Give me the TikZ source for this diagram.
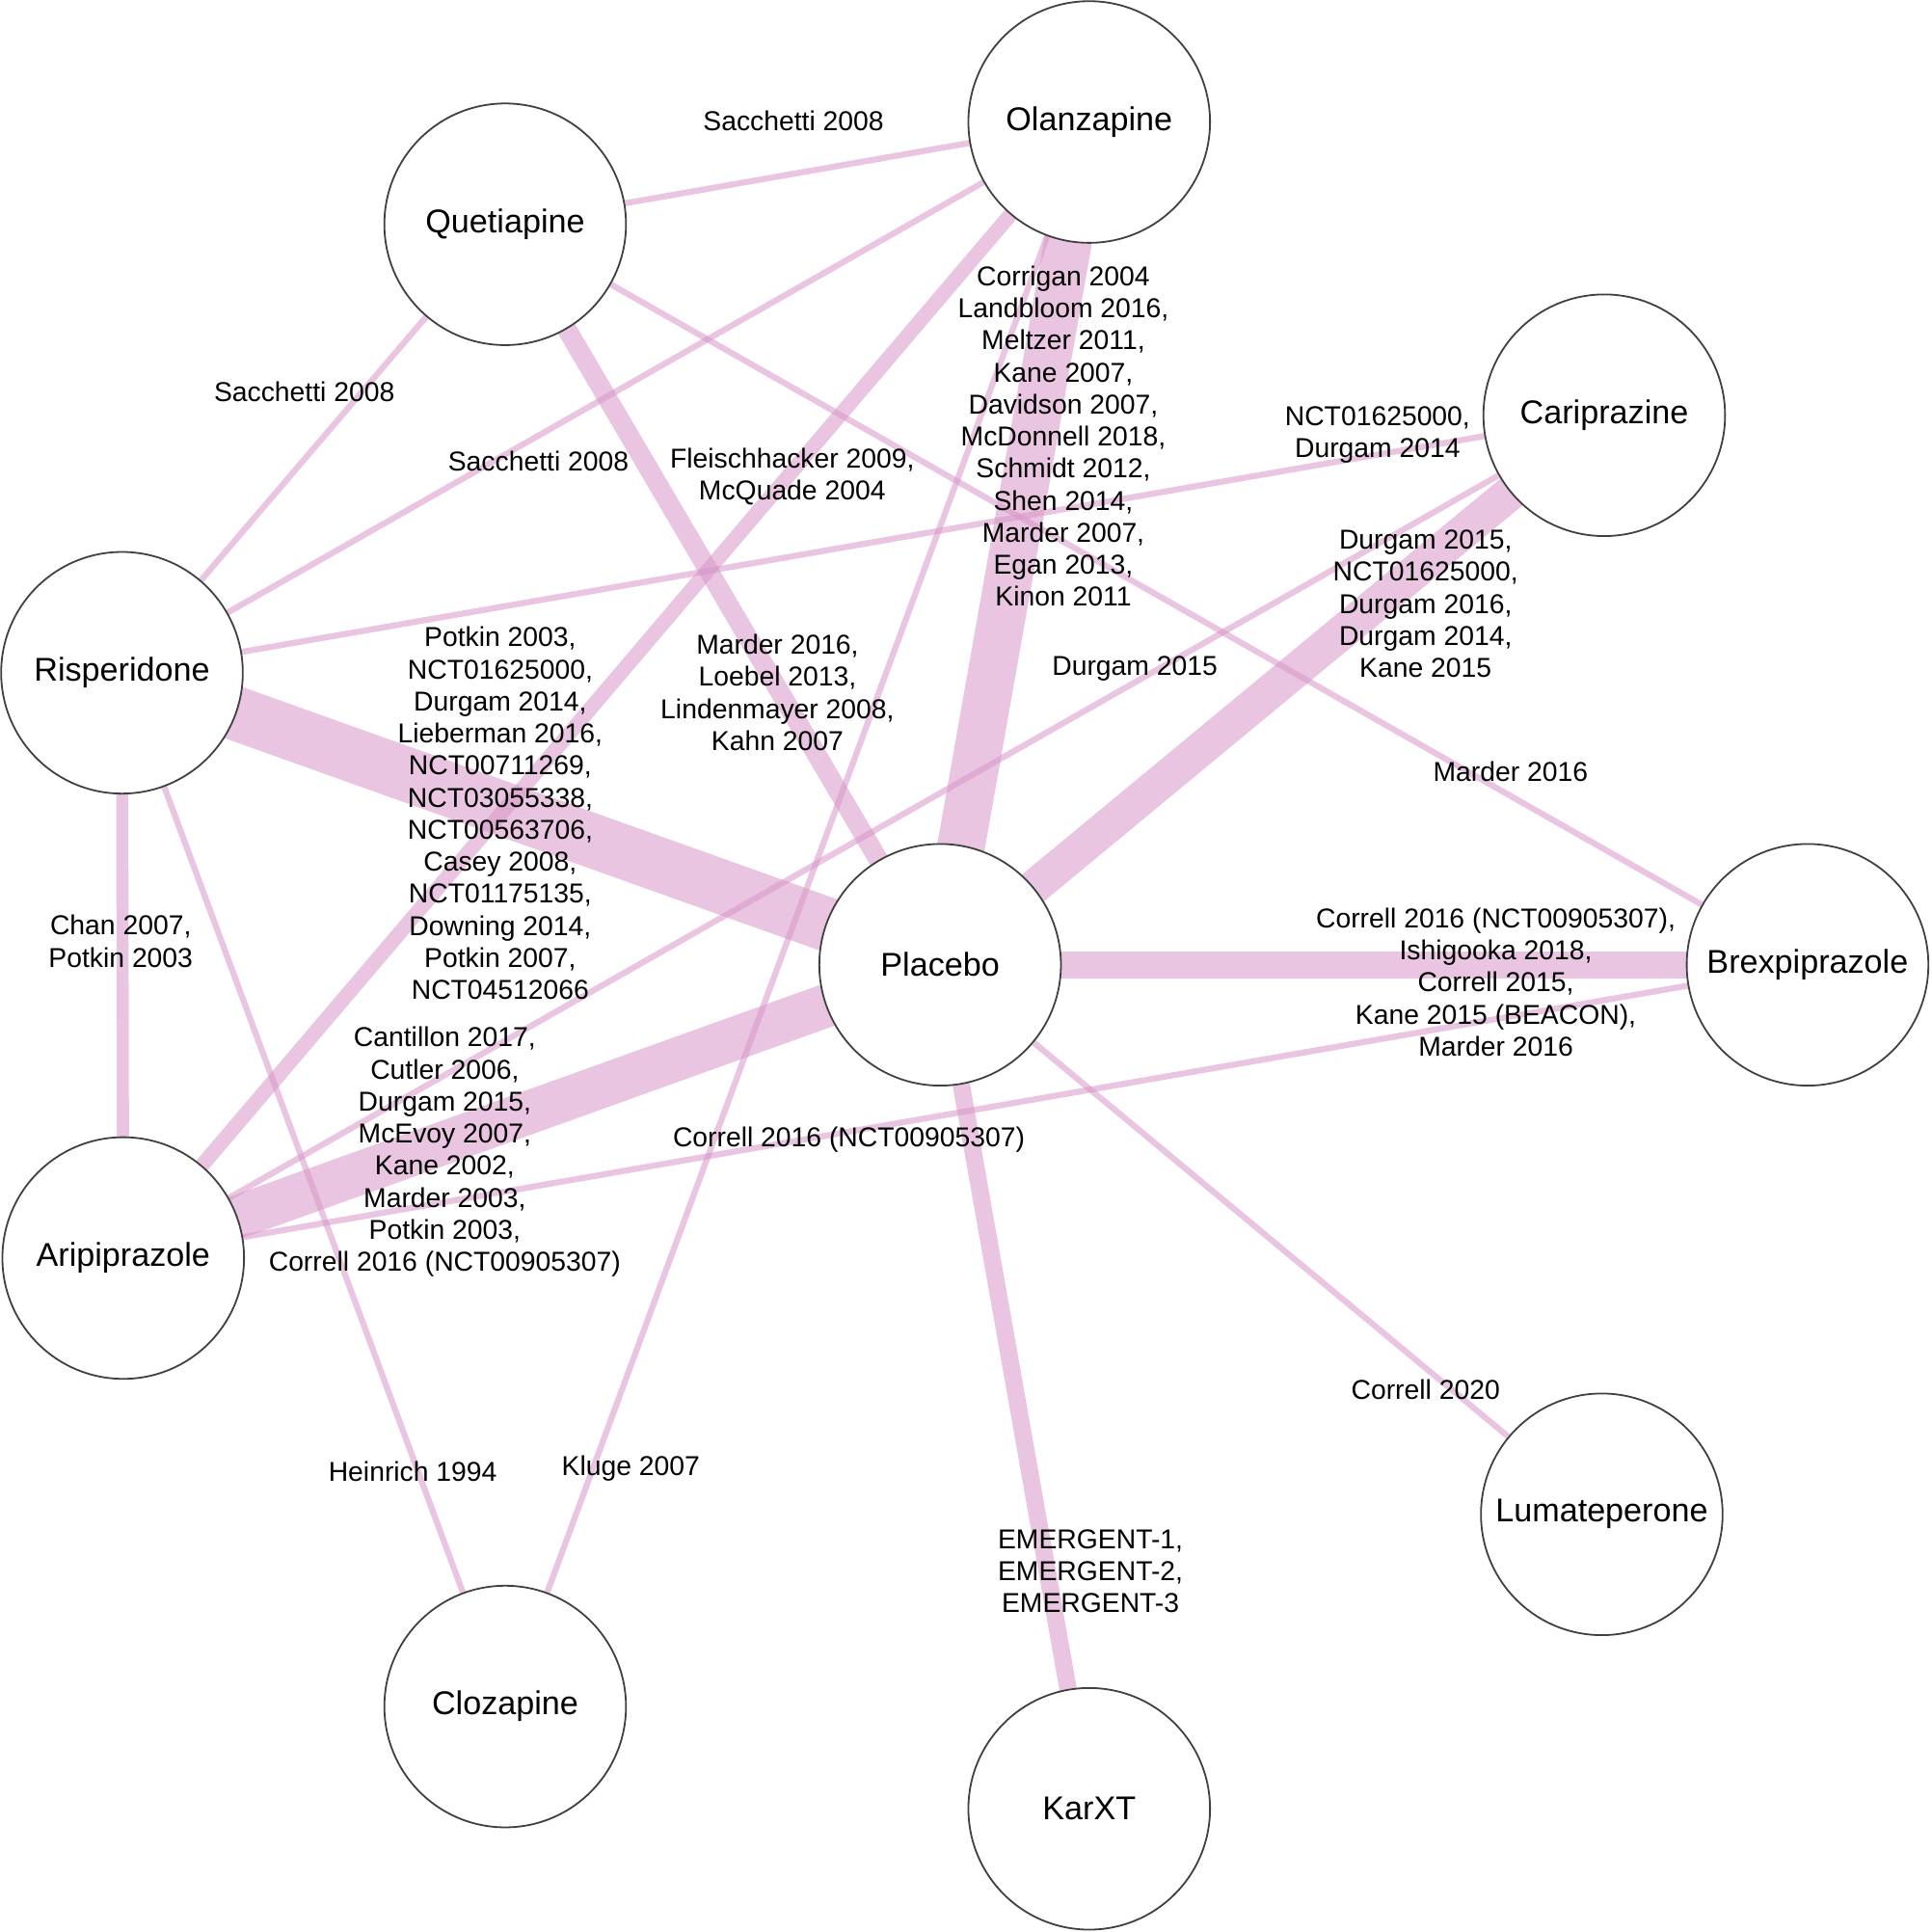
\documentclass[tikz,border=0pt]{standalone}
\usepackage{fontspec}
\setmainfont{Liberation Sans}
\usetikzlibrary{positioning,backgrounds}
\definecolor{edgepink}{RGB}{215,150,200}
\tikzset{
  drug/.style={draw=black!75, circle, fill=white, minimum size=1.96cm, inner sep=0pt, font=\fontsize{7.6}{9}\selectfont},
  trial/.style={align=center, inner sep=0pt, font=\fontsize{6.3}{7.4}\selectfont},
  link/.style={draw=edgepink, opacity=0.55, line width=#1},
}
\begin{document}
\begin{tikzpicture}[x=0.01cm, y=-0.01cm]
  \useasboundingbox (0,0) rectangle (1568,1568);
  % Treatments
  \node[drug] (Olan) at (884,99) {Olanzapine};
  \node[drug] (Quet) at (410,182) {Quetiapine};
  \node[drug] (Cari) at (1302,337) {Cariprazine};
  \node[drug] (Risp) at (99,546) {Risperidone};
  \node[drug] (Plac) at (763,783) {Placebo};
  \node[drug] (Brex) at (1467,783) {Brexpiprazole};
  \node[drug] (Arip) at (100,1021) {Aripiprazole};
  \node[drug] (Luma) at (1300,1229) {Lumateperone};
  \node[drug] (Cloz) at (410,1385) {Clozapine};
  \node[drug] (Karx) at (884,1468) {KarXT};

  % Comparisons
  \begin{scope}[on background layer]
    \draw[link=1.4pt] (Quet.center) -- (Olan.center);
    \draw[link=1.4pt] (Risp.center) -- (Quet.center);
    \draw[link=1.4pt] (Risp.center) -- (Olan.center);
    \draw[link=1.4pt] (Risp.center) -- (Cari.center);
    \draw[link=1.4pt] (Quet.center) -- (Brex.center);
    \draw[link=4.5pt] (Quet.center) -- (Plac.center);
    \draw[link=11pt] (Olan.center) -- (Plac.center);
    \draw[link=3.4pt] (Olan.center) -- (Arip.center);
    \draw[link=1.4pt] (Olan.center) -- (Cloz.center);
    \draw[link=8pt] (Cari.center) -- (Plac.center);
    \draw[link=1.4pt] (Cari.center) -- (Arip.center);
    \draw[link=12.5pt] (Risp.center) -- (Plac.center);
    \draw[link=2.8pt] (Risp.center) -- (Arip.center);
    \draw[link=1.4pt] (Risp.center) -- (Cloz.center);
    \draw[link=6.2pt] (Plac.center) -- (Brex.center);
    \draw[link=1.4pt] (Arip.center) -- (Brex.center);
    \draw[link=10pt] (Arip.center) -- (Plac.center);
    \draw[link=1.4pt] (Plac.center) -- (Luma.center);
    \draw[link=4pt] (Plac.center) -- (Karx.center);
  \end{scope}

  % Trial labels
  \node[trial] (lQO) at (644,98) {Sacchetti 2008};
  \node[trial] (lRQ) at (247,318) {Sacchetti 2008};
  \node[trial] (lRO) at (437,374) {Sacchetti 2008};
  \node[trial] (lOA) at (643,387) {Fleischhacker 2009,\\McQuade 2004};
  \node[trial] (lOP) at (863,354) {Corrigan 2004\\Landbloom 2016,\\Meltzer 2011,\\Kane 2007,\\Davidson 2007,\\McDonnell 2018,\\Schmidt 2012,\\Shen 2014,\\Marder 2007,\\Egan 2013,\\Kinon 2011};
  \node[trial] (lRC) at (1118,353) {NCT01625000,\\Durgam 2014};
  \node[trial] (lCP) at (1157,490) {Durgam 2015,\\NCT01625000,\\Durgam 2016,\\Durgam 2014,\\Kane 2015};
  \node[trial] (lCA) at (921,543) {Durgam 2015};
  \node[trial] (lQB) at (1226,626) {Marder 2016};
  \node[trial] (lQP) at (631,562) {Marder 2016,\\Loebel 2013,\\Lindenmayer 2008,\\Kahn 2007};
  \node[trial] (lRP) at (406,660) {Potkin 2003,\\NCT01625000,\\Durgam 2014,\\Lieberman 2016,\\NCT00711269,\\NCT03055338,\\NCT00563706,\\Casey 2008,\\NCT01175135,\\Downing 2014,\\Potkin 2007,\\NCT04512066};
  \node[trial] (lRA) at (98,764) {Chan 2007,\\Potkin 2003};
  \node[trial] (lPB) at (1214,797) {Correll 2016 (NCT00905307),\\Ishigooka 2018,\\Correll 2015,\\Kane 2015 (BEACON),\\Marder 2016};
  \node[trial] (lAP) at (361,935) {Cantillon 2017,\\Cutler 2006,\\Durgam 2015,\\McEvoy 2007,\\Kane 2002,\\Marder 2003,\\Potkin 2003,\\Correll 2016 (NCT00905307)};
  \node[trial] (lAB) at (689,925) {Correll 2016 (NCT00905307)};
  \node[trial] (lPL) at (1157,1128) {Correll 2020};
  \node[trial] (lRZ) at (335,1194) {Heinrich 1994};
  \node[trial] (lOZ) at (512,1192) {Kluge 2007};
  \node[trial] (lPK) at (885,1275) {EMERGENT-1,\\EMERGENT-2,\\EMERGENT-3};
\end{tikzpicture}
\end{document}
